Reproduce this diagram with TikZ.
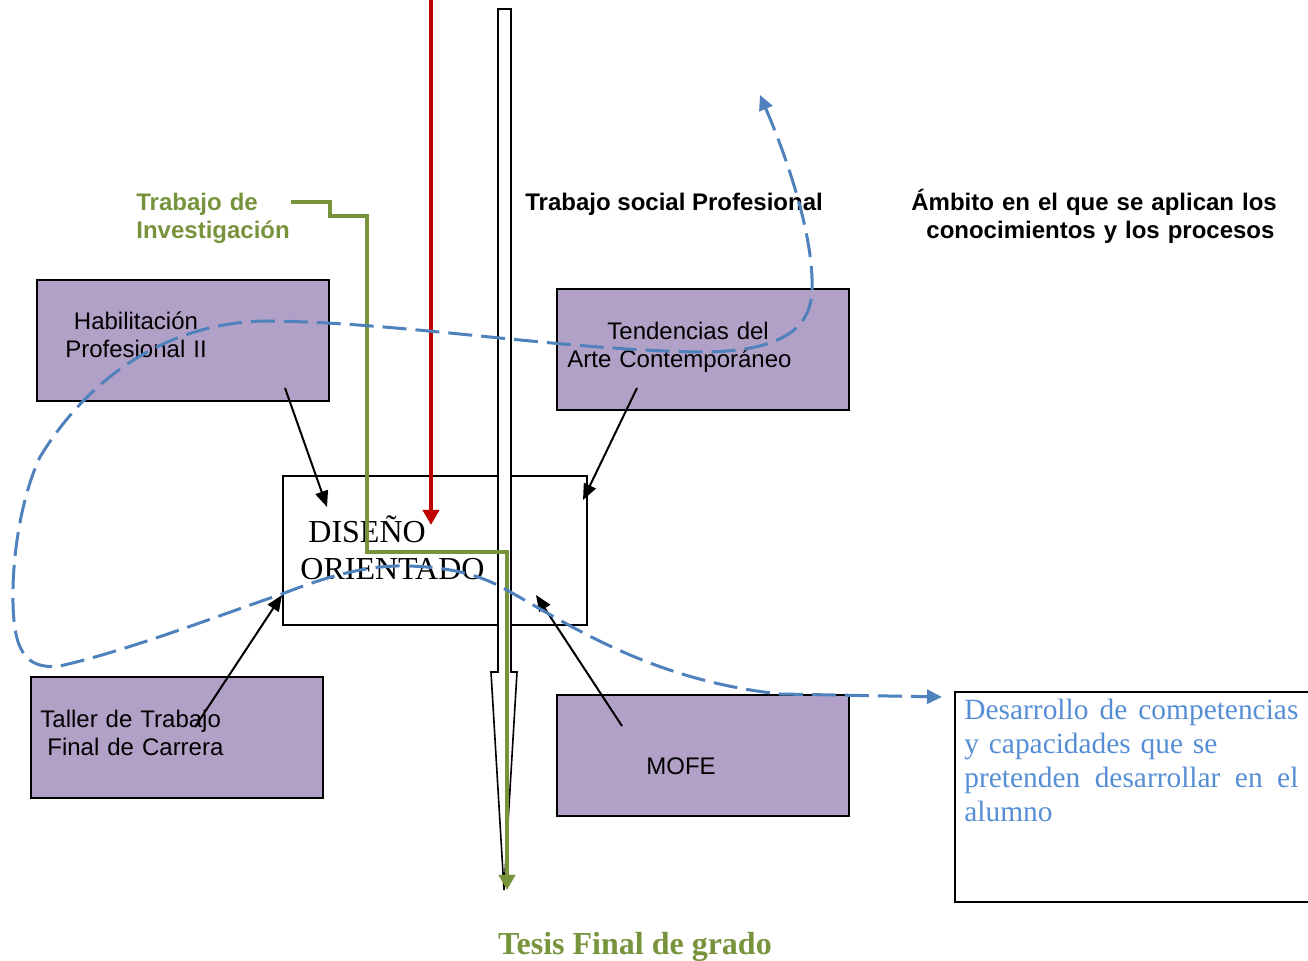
\documentclass[tikz,border=0pt]{standalone}
\usepackage{fontspec}
\setmainfont{Liberation Serif}
\setsansfont{Liberation Sans}
\usetikzlibrary{arrows.meta}
\definecolor{boxpurple}{HTML}{B2A1C7}
\definecolor{curveblue}{HTML}{4F81BD}
\definecolor{textblue}{HTML}{558ED5}
\definecolor{tesisgreen}{HTML}{77933C}
\definecolor{darkred}{HTML}{C00000}

\begin{document}
\begin{tikzpicture}[x=0.5pt,y=0.5pt,yscale=-1,xscale=1,
    purplebox/.style={draw=black,line width=1pt,fill=boxpurple,minimum width=146pt,minimum height=60.5pt,inner sep=0pt},
    plainbox/.style={draw=black,line width=1pt,fill=white,inner sep=0pt},
    boxtext/.style={font=\sffamily\fontsize{12}{14}\selectfont,inner sep=0pt,align=center,text width=110pt,anchor=base},
    headtext/.style={font=\sffamily\bfseries\fontsize{12}{14}\selectfont,inner sep=0pt},
    thinarrow/.style={line width=1pt,-{Triangle[length=8pt,width=6.5pt]}},
    thickarrow/.style={line width=2pt,-{Triangle[length=7.5pt,width=8pt]}},
    dashcurve/.style={color=curveblue,line width=1.5pt,dash pattern=on 12pt off 4.5pt,
      {Triangle[length=7.5pt,width=7pt]}-{Triangle[length=7.5pt,width=7pt]}}]
    \useasboundingbox (0,0) rectangle (1308,961);

    %Shape: Rectangle
    \node [purplebox] (hab) at (183,340.5) {};
    %Shape: Rectangle
    \node [purplebox] (tend) at (703,350) {};
    %Shape: Rectangle
    \node [purplebox] (taller) at (177,737.5) {};
    %Shape: Rectangle
    \node [purplebox] (mofe) at (703,756) {};
    %Shape: Rectangle
    \node [plainbox,minimum width=152pt,minimum height=74.5pt] (diseno) at (435,550.5) {};
    %Shape: Rectangle
    \node [plainbox,minimum width=180pt,minimum height=105pt] (desbox) at (1135,797) {};

    %Shape: Hollow Arrow
    \draw [line width=0.8pt,fill=white] (498,9) -- (511,9) -- (511,672) -- (517,672) -- (504,890) -- (491,672) -- (498,672) -- cycle ;

    % Text Node
    \node [boxtext] (habtext) at (136,330) {Habilitación\\Profesional II};
    % Text Node
    \node [boxtext,anchor=base west,align=left,text width=130pt] (tendtext) at (567,340) {\hspace*{20pt}Tendencias del\\Arte Contemporáneo};
    % Text Node
    \node [boxtext,anchor=base west,align=left] (tallertext) at (40,728) {Taller de Trabajo\\\hspace*{3.5pt}Final de Carrera};
    % Text Node
    \node [boxtext] (mofetext) at (681,775) {MOFE};
    % Text Node
    \node [anchor=base west,inner sep=0pt,font=\fontsize{16}{18.5}\selectfont,align=left,text width=100pt] (disenotext) at (300,543) {\hspace*{4pt}DISEÑO\\ORIENTADO};
    % Text Node
    \node [anchor=base west,inner sep=0pt,font=\fontsize{14.7}{17}\selectfont,text=textblue,align=left,text width=167pt] (destext) at (964,720) {Desarrollo\hfill de\hfill competencias\\y capacidades que se\\pretenden\hfill desarrollar\hfill en\hfill el\\alumno};
    % Text Node
    \node [headtext,anchor=base west,text=tesisgreen,align=left,text width=100pt] (invtext) at (136,211) {Trabajo de\\Investigación};
    % Text Node
    \node [headtext,anchor=base west] (socialtext) at (525,211) {Trabajo social Profesional};
    % Text Node
    \node [headtext,anchor=base west,align=left,text width=200pt] (ambitotext) at (911,211) {Ámbito en el que se aplican los\\\hspace*{7.5pt}conocimientos y los procesos};
    % Text Node
    \node [anchor=base,inner sep=0pt,font=\bfseries\fontsize{16}{18}\selectfont,text=tesisgreen] (tesistext) at (635,955) {Tesis Final de grado};

    \coordinate (redtop) at (431,-5);
    \coordinate (redtip) at (431,525);
    \coordinate (invstart) at (291,202);
    \coordinate (tesistip) at (507,890);
    \coordinate (habout) at (285,388);
    \coordinate (habin) at (327,507);
    \coordinate (tendout) at (637,388);
    \coordinate (tendin) at (583,500);
    \coordinate (tallerout) at (195,727);
    \coordinate (tallerin) at (282,595);
    \coordinate (mofeout) at (622,726);
    \coordinate (mofein) at (536,595);

    %Straight Lines
    \draw [thickarrow,color=darkred] (redtop) -- (redtip) ;
    %Straight Lines
    \draw [thickarrow,color=tesisgreen] (invstart) -| (330,216) -| (367,552) -| (tesistip) ;
    %Straight Lines
    \draw [thinarrow] (habout) -- (habin) ;
    \draw [thinarrow] (tendout) -- (tendin) ;
    \draw [thinarrow] (tallerout) -- (tallerin) ;
    \draw [thinarrow] (mofeout) -- (mofein) ;

    %Curve Lines
    \draw [dashcurve] (760,95) .. controls (790,165) and (814,240) .. (812,290) .. controls (811,335) and (770,352) .. (700,352) .. controls (560,350) and (400,322) .. (267,321) .. controls (170,322) and (90,375) .. (40,457) .. controls (20,500) and (12,560) .. (13,603) .. controls (14,650) and (25,670) .. (60,666) .. controls (130,650) and (220,615) .. (282,594) .. controls (330,575) and (370,565) .. (407,566) .. controls (450,567) and (480,575) .. (505,589) .. controls (570,625) and (650,680) .. (780,694) -- (942,697) ;

\end{tikzpicture}
\end{document}
